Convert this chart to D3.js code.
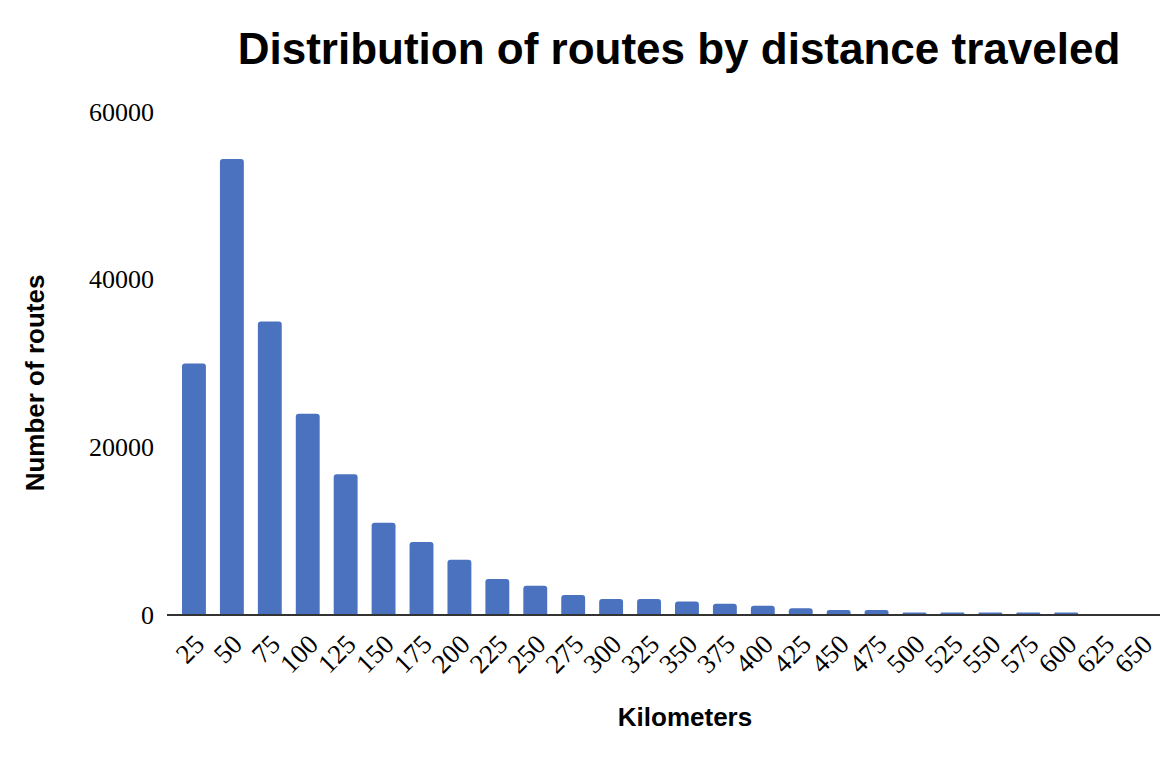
<!DOCTYPE html>
<html>
<head>
<meta charset="utf-8">
<script src="https://cdn.jsdelivr.net/npm/d3@7"></script>
<style>
  body { margin: 0; background: #fff; }
</style>
</head>
<body>
<script>
const kilometers = ["25","50","75","100","125","150","175","200","225","250","275","300","325",
                    "350","375","400","425","450","475","500","525","550","575","600","625","650"];
const routes = [30000, 54400, 35000, 24000, 16800, 11000, 8700, 6600, 4300, 3500, 2400, 1900, 1900,
                1600, 1350, 1100, 800, 600, 600, 300, 300, 300, 300, 300, 0, 0];
const y_ticks = [0, 20000, 40000, 60000];

const width = 1160;
const height = 760;
const bar_color = "#4a72bf";

let svg = d3.select("body").append("svg")
        .attr("width", width)
        .attr("height", height);

let x_scale = d3.scaleBand()
        .domain(kilometers)
        .range([175, 1161])
        .paddingInner(0.37)
        .paddingOuter(0.185);

let y_scale = d3.scaleLinear()
        .domain([0, 60000])
        .range([615, 112]);

// title
svg.append("text")
  .attr("x", 679)
  .attr("y", 64)
  .attr("text-anchor", "middle")
  .attr("font-family", "'Liberation Sans', Arial, sans-serif")
  .attr("font-weight", "bold")
  .attr("font-size", 44)
  .text("Distribution of routes by distance traveled");

// y axis labels, no line
let y_axis = d3.axisLeft(y_scale)
        .tickValues(y_ticks)
        .tickSize(0)
        .tickPadding(0)
        .tickFormat(d3.format("d"));

svg.append("g")
  .attr("transform", "translate(154,0)")
  .call(y_axis)
  .call(g => g.select(".domain").remove())
  .selectAll("text")
  .attr("font-family", "'Liberation Serif', 'Times New Roman', serif")
  .attr("font-size", 26)
  .attr("fill", "#000");

// bars with rounded tops
let bar_path = function(d, i){
  let x0 = x_scale(kilometers[i]);
  let w = x_scale.bandwidth();
  let y0 = y_scale(0);
  let y1 = y_scale(d);
  let r = Math.min(3, (y0 - y1) / 2, w / 2);
  return "M" + x0 + "," + y0 +
         "V" + (y1 + r) +
         "Q" + x0 + "," + y1 + " " + (x0 + r) + "," + y1 +
         "H" + (x0 + w - r) +
         "Q" + (x0 + w) + "," + y1 + " " + (x0 + w) + "," + (y1 + r) +
         "V" + y0 + "Z";
}

svg.append("g")
  .selectAll("path")
  .data(routes)
  .join("path")
  .filter(d => d > 0)
  .attr("d", bar_path)
  .attr("fill", bar_color);

// baseline
svg.append("line")
  .attr("x1", 167)
  .attr("x2", 1160)
  .attr("y1", y_scale(0))
  .attr("y2", y_scale(0))
  .attr("stroke", "#333")
  .attr("stroke-width", 2);

// x axis labels rotated
let x_axis = d3.axisBottom(x_scale)
        .tickSize(0)
        .tickPadding(0);

let xg = svg.append("g")
  .attr("transform", "translate(0," + y_scale(0) + ")")
  .call(x_axis);
xg.select(".domain").remove();
xg.selectAll("text")
  .attr("font-family", "'Liberation Serif', 'Times New Roman', serif")
  .attr("font-size", 27)
  .attr("fill", "#000")
  .attr("text-anchor", "end")
  .attr("dy", 0)
  .attr("transform", "translate(12,31) rotate(-45)");

// axis titles
svg.append("text")
  .attr("x", 685)
  .attr("y", 726)
  .attr("text-anchor", "middle")
  .attr("font-family", "'Liberation Sans', Arial, sans-serif")
  .attr("font-weight", "bold")
  .attr("font-size", 26)
  .text("Kilometers");

svg.append("text")
  .attr("transform", "translate(44,383) rotate(-90)")
  .attr("text-anchor", "middle")
  .attr("font-family", "'Liberation Sans', Arial, sans-serif")
  .attr("font-weight", "bold")
  .attr("font-size", 26)
  .text("Number of routes");
</script>
</body>
</html>
